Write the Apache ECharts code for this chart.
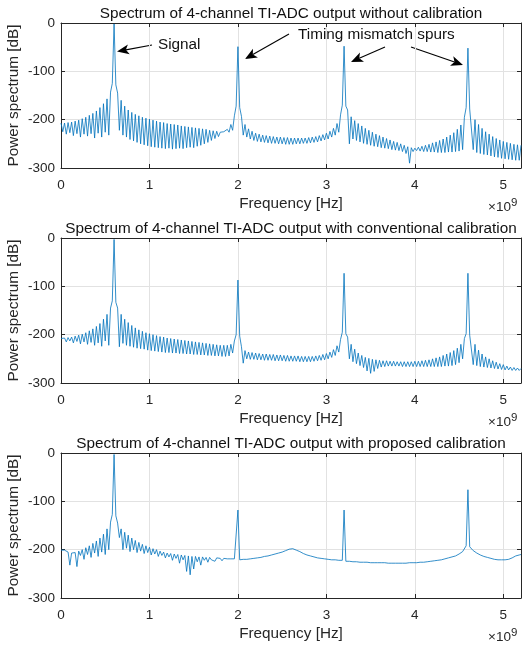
<!DOCTYPE html>
<html><head><meta charset="utf-8">
<script src="https://cdn.jsdelivr.net/npm/echarts@6/dist/echarts.min.js"></script>
<style>html,body{margin:0;padding:0;background:#fff}#c{width:522px;height:646px}</style>
</head><body><div id="c"></div>
<script>
// ---------------- data ----------------
const plotTitles = [
  'Spectrum of 4-channel TI-ADC output without calibration',
  'Spectrum of 4-channel TI-ADC output with conventional calibration',
  'Spectrum of 4-channel TI-ADC output with proposed calibration'
];
const xTicks = [0, 1, 2, 3, 4, 5];
const yTicks = [0, -100, -200, -300];

// FFT bin frequencies (GHz)
const binGHz = [
0,0.02,0.04,0.06,0.08,0.1,0.12,0.14,0.16,0.18,
0.2,0.22,0.24,0.26,0.28,0.3,0.32,0.34,0.36,0.38,
0.4,0.42,0.44,0.46,0.48,0.5,0.52,0.54,0.56,0.58,
0.6,0.62,0.64,0.66,0.68,0.7,0.72,0.74,0.76,0.78,
0.8,0.82,0.84,0.86,0.88,0.9,0.92,0.94,0.96,0.98,
1,1.02,1.04,1.06,1.08,1.1,1.12,1.14,1.16,1.18,
1.2,1.22,1.24,1.26,1.28,1.3,1.32,1.34,1.36,1.38,
1.4,1.42,1.44,1.46,1.48,1.5,1.52,1.54,1.56,1.58,
1.6,1.62,1.64,1.66,1.68,1.7,1.72,1.74,1.76,1.78,
1.8,1.82,1.84,1.86,1.88,1.9,1.92,1.94,1.96,1.98,
2,2.02,2.04,2.06,2.08,2.1,2.12,2.14,2.16,2.18,
2.2,2.22,2.24,2.26,2.28,2.3,2.32,2.34,2.36,2.38,
2.4,2.42,2.44,2.46,2.48,2.5,2.52,2.54,2.56,2.58,
2.6,2.62,2.64,2.66,2.68,2.7,2.72,2.74,2.76,2.78,
2.8,2.82,2.84,2.86,2.88,2.9,2.92,2.94,2.96,2.98,
3,3.02,3.04,3.06,3.08,3.1,3.12,3.14,3.16,3.18,
3.2,3.22,3.24,3.26,3.28,3.3,3.32,3.34,3.36,3.38,
3.4,3.42,3.44,3.46,3.48,3.5,3.52,3.54,3.56,3.58,
3.6,3.62,3.64,3.66,3.68,3.7,3.72,3.74,3.76,3.78,
3.8,3.82,3.84,3.86,3.88,3.9,3.92,3.94,3.96,3.98,
4,4.02,4.04,4.06,4.08,4.1,4.12,4.14,4.16,4.18,
4.2,4.22,4.24,4.26,4.28,4.3,4.32,4.34,4.36,4.38,
4.4,4.42,4.44,4.46,4.48,4.5,4.52,4.54,4.56,4.58,
4.6,4.62,4.64,4.66,4.68,4.7,4.72,4.74,4.76,4.78,
4.8,4.82,4.84,4.86,4.88,4.9,4.92,4.94,4.96,4.98,
5,5.02,5.04,5.06,5.08,5.1,5.12,5.14,5.16,5.18,
5.2
];

// Plot 1: without calibration. "top" = even bins (0, 0.04, ...), "dip" = odd bins (0.02, 0.06, ...), dB
const top1 = [
-207,-207,-206,-205,-203,-201,-198,-195,-191,-187,
-182,-175,-167,-157,-143,-2,-145,-160,-172,-180,
-185,-189,-192,-195,-197,-199,-201,-203,-205,-206,
-208,-209,-210,-211,-213,-214,-215,-216,-217,-218,
-219,-220,-222,-223,-224,-226,-225,-220,-210,-192,
-49,-193,-210,-219,-224,-228,-230,-232,-233,-234,
-235,-236,-236,-237,-237,-238,-238,-238,-238,-238,
-237,-236,-235,-233,-231,-228,-224,-218,-208,-190,
-48,-180,-194,-202,-208,-213,-218,-222,-226,-230,
-233,-236,-239,-242,-245,-247,-250,-253,-256,-258,
-259,-257,-255,-253,-251,-248,-246,-243,-240,-236,
-232,-227,-220,-211,-195,-52,-182,-200,-210,-218,
-225,-230,-235,-239,-242,-245,-247,-249,-251,-252,
-253
];
const dip1 = [
-225,-230,-227,-233,-229,-236,-230,-234,-229,-238,
-228,-236,-226,-232,-125,-128,-222,-232,-236,-241,
-244,-247,-250,-252,-254,-256,-257,-258,-259,-260,
-259,-261,-260,-259,-260,-258,-257,-258,-255,-253,
-250,-247,-243,-239,-235,-230,-228,-226,-222,-172,
-175,-232,-236,-240,-243,-245,-246,-247,-248,-249,
-249,-250,-250,-251,-251,-251,-250,-250,-249,-249,
-248,-247,-246,-244,-242,-240,-236,-232,-226,-170,
-172,-250,-240,-243,-246,-249,-251,-253,-255,-256,
-258,-259,-260,-262,-263,-264,-266,-270,-290,-266,
-264,-265,-266,-266,-267,-267,-268,-268,-268,-267,
-267,-266,-265,-262,-175,-178,-262,-268,-270,-272,
-273,-275,-277,-278,-280,-281,-282,-283,-284,-284
];

// Plot 2: conventional calibration
const top2 = [
-208,-207,-206,-205,-203,-201,-199,-196,-192,-188,
-183,-177,-168,-158,-145,-3,-145,-158,-168,-175,
-181,-186,-190,-193,-196,-198,-200,-202,-204,-205,
-207,-208,-209,-210,-211,-212,-213,-214,-215,-216,
-217,-218,-219,-220,-221,-222,-222,-222,-220,-213,
-87,-225,-233,-236,-237,-238,-239,-240,-240,-241,
-241,-242,-242,-243,-243,-244,-244,-244,-245,-245,
-245,-245,-244,-243,-241,-239,-236,-231,-223,-210,
-73,-205,-220,-230,-238,-243,-247,-249,-251,-252,
-253,-254,-254,-255,-255,-256,-256,-256,-256,-256,
-255,-255,-254,-253,-252,-250,-248,-246,-243,-240,
-237,-233,-228,-220,-208,-73,-205,-220,-232,-240,
-246,-250,-254,-257,-260,-262,-265,-267,-268,-269,
-270
];
const dip2 = [
-212,-215,-213,-217,-214,-219,-215,-220,-216,-222,
-217,-224,-213,-222,-130,-133,-225,-218,-222,-224,
-226,-228,-229,-230,-232,-233,-234,-235,-236,-237,
-237,-238,-238,-239,-239,-240,-240,-241,-241,-242,
-242,-243,-243,-244,-244,-245,-245,-244,-238,-200,
-203,-259,-250,-251,-251,-252,-252,-253,-253,-253,
-254,-254,-254,-255,-255,-255,-255,-256,-256,-256,
-256,-255,-254,-253,-252,-250,-247,-243,-236,-195,
-198,-250,-256,-260,-264,-268,-275,-280,-276,-270,
-267,-266,-265,-265,-265,-265,-266,-266,-266,-266,
-266,-266,-266,-266,-266,-266,-266,-266,-265,-265,
-264,-262,-258,-250,-198,-201,-262,-264,-266,-267,
-268,-269,-270,-271,-272,-273,-273,-274,-274,-274
];

// Plot 3: proposed calibration
const top3 = [
-201,-201,-205,-207,-206,-203,-200,-196,-192,-187,
-182,-176,-168,-157,-143,-3,-145,-157,-164,-170,
-176,-181,-185,-189,-192,-195,-198,-200,-203,-205,
-207,-208,-209,-210,-211,-212,-213,-214,-214,-215,
-215,-216,-216,-217,-217,-218,-218,-219,-219,-219,
-118,-220,-220,-219,-218,-217,-216,-215,-213,-212,
-210,-208,-206,-203,-200,-198,-199,-202,-206,-209,
-212,-214,-216,-217,-218,-219,-220,-221,-221,-222,
-118,-224,-224,-225,-225,-226,-226,-226,-227,-227,
-227,-227,-227,-228,-228,-228,-228,-228,-227,-227,
-227,-226,-226,-225,-224,-223,-222,-221,-220,-218,
-216,-214,-211,-207,-200,-76,-198,-205,-209,-212,
-215,-217,-219,-220,-221,-221,-221,-219,-215,-212,
-210
];
const dip3 = [
-201,-203,-232,-210,-235,-212,-220,-210,-216,-207,
-214,-205,-210,-200,-127,-130,-175,-200,-197,-204,
-200,-206,-203,-208,-206,-211,-209,-214,-212,-217,
-215,-222,-218,-228,-221,-245,-252,-240,-225,-232,
-222,-226,-221,-224,-220,-223,-221,-222,-221,-220,
-221,-220,-220,-219,-218,-217,-216,-214,-213,-211,
-209,-207,-205,-202,-199,-198,-201,-204,-208,-211,
-213,-215,-217,-218,-219,-220,-221,-221,-222,-222,
-224,-224,-225,-225,-226,-226,-226,-227,-227,-227,
-227,-227,-228,-228,-228,-228,-228,-228,-227,-227,
-227,-226,-226,-225,-224,-223,-222,-221,-219,-217,
-215,-213,-209,-204,-192,-194,-202,-207,-211,-214,
-216,-218,-220,-221,-221,-221,-220,-217,-213,-211
];

const spectra = [[top1, dip1], [top2, dip2], [top3, dip3]];

// ---------------- build ----------------
const FONT = '"Liberation Sans", Arial, Helvetica, sans-serif';
const AX = '#262626';
const GRIDC = '#e2e2e2';
const L = 61, W = 460, H = 145;
const tops = [23, 238, 453];
const TICK_FS = 13.5, LABEL_FS = 15.3;

function seriesData(top, dip) {
  const out = [];
  for (let k = 0; k < binGHz.length; k++) {
    const v = (k % 2 === 0) ? top[k / 2] : dip[(k - 1) / 2];
    out.push([binGHz[k], v]);
  }
  return out;
}

const grid = [], xAxis = [], yAxis = [], series = [];
tops.forEach((t, i) => {
  grid.push({left: L, top: t, width: W, height: H, containLabel: false, outerBoundsMode: 'none'});
  const common = {
    gridIndex: i, type: 'value',
    axisLine: {show: true, onZero: false, lineStyle: {color: AX, width: 1}},
    axisTick: {show: true, inside: true, length: 4, lineStyle: {color: AX}},
  };
  xAxis.push(Object.assign({}, common, {
    position: 'bottom', min: xTicks[0], max: 5.2, interval: 1,
    axisLabel: {margin: 10, fontSize: TICK_FS, color: AX, fontFamily: FONT,
      formatter: v => (xTicks.indexOf(v) >= 0 ? String(v) : '')},
    splitLine: {show: true, lineStyle: {color: GRIDC, width: 1}},
    name: 'Frequency [Hz]', nameLocation: 'middle', nameGap: 28, nameMoveOverlap: false,
    nameTextStyle: {fontSize: LABEL_FS, color: AX, fontFamily: FONT}
  }));
  xAxis.push(Object.assign({}, common, {
    position: 'top', min: xTicks[0], max: 5.2, interval: 1,
    axisLabel: {show: false}, splitLine: {show: false}
  }));
  yAxis.push(Object.assign({}, common, {
    position: 'left', min: -300, max: 0, interval: 100,
    axisLabel: {margin: 6, fontSize: TICK_FS, color: AX, fontFamily: FONT,
      formatter: v => (yTicks.indexOf(v) >= 0 ? String(v) : '')},
    splitLine: {show: true, lineStyle: {color: GRIDC, width: 1}},
    name: 'Power spectrum [dB]', nameLocation: 'middle', nameGap: 40, nameRotate: 90,
    nameMoveOverlap: false,
    nameTextStyle: {fontSize: LABEL_FS, color: AX, fontFamily: FONT}
  }));
  yAxis.push(Object.assign({}, common, {
    position: 'right', min: -300, max: 0, interval: 100,
    axisLabel: {show: false}, splitLine: {show: false}
  }));
  series.push({
    type: 'line', xAxisIndex: 2 * i, yAxisIndex: 2 * i,
    data: seriesData(spectra[i][0], spectra[i][1]),
    showSymbol: false, symbol: 'none', clip: true,
    lineStyle: {color: '#0072BD', width: 0.8},
    animation: false
  });
});

function arrow(x1, y1, x2, y2) {
  const dx = x2 - x1, dy = y2 - y1, len = Math.hypot(dx, dy);
  const ux = dx / len, uy = dy / len;
  const hl = 12, hw = 5;
  const bx = x2 - ux * hl, by = y2 - uy * hl;
  const nx = x2 - ux * hl * 0.75, ny = y2 - uy * hl * 0.75;
  return [
    {type: 'line', shape: {x1: x1, y1: y1, x2: nx, y2: ny}, style: {stroke: '#000', lineWidth: 1.1}},
    {type: 'polygon', shape: {points: [[x2, y2], [bx - uy * hw, by + ux * hw], [nx, ny], [bx + uy * hw, by - ux * hw]]},
     style: {fill: '#000'}}
  ];
}

const graphic = [];
tops.forEach((t, i) => {
  graphic.push({type: 'text', x: L + W / 2, y: t - 9,
    style: {text: plotTitles[i], fontSize: LABEL_FS, fontFamily: FONT, fill: '#111',
      textAlign: 'center', textVerticalAlign: 'middle'}});
  graphic.push({type: 'text', x: 488, y: t + H + 39,
    style: {text: '×10{s|9}', fontSize: 13.5, fontFamily: FONT, fill: AX,
      textAlign: 'left', textVerticalAlign: 'middle',
      rich: {s: {fontSize: 11.5, fontFamily: FONT, fill: AX, padding: [0, 0, 9, 0]}}}});
});
// annotations on the first panel
graphic.push({type: 'text', x: 158, y: 45, style: {text: 'Signal', fontSize: LABEL_FS, fontFamily: FONT, fill: '#111', textVerticalAlign: 'middle'}});
graphic.push({type: 'text', x: 298, y: 35, style: {text: 'Timing mismatch spurs', fontSize: LABEL_FS, fontFamily: FONT, fill: '#111', textVerticalAlign: 'middle'}});
graphic.push(...arrow(152, 45, 117, 51.5));
graphic.push(...arrow(289, 34, 245, 59));
graphic.push(...arrow(385, 47, 351, 62));
graphic.push(...arrow(411, 47, 463, 65));

const chart = echarts.init(document.getElementById('c'), null, {renderer: 'canvas'});
chart.setOption({
  animation: false,
  backgroundColor: '#fff',
  textStyle: {fontFamily: FONT},
  grid: grid, xAxis: xAxis, yAxis: yAxis, series: series,
  graphic: graphic
});
</script></body></html>
